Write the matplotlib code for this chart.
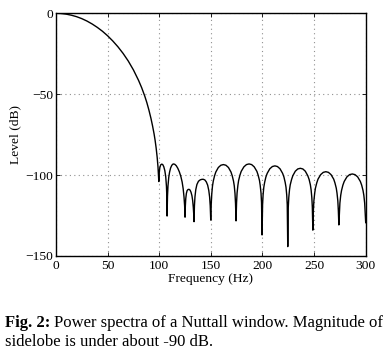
import matplotlib
matplotlib.use("Agg")
import matplotlib.pyplot as plt

plt.rcParams['font.family'] = ['Liberation Serif', 'DejaVu Serif']
plt.rcParams['axes.unicode_minus'] = True

# Main lobe (frequency Hz, level dB)
main_f = [0, 5, 10, 15, 20, 25, 30, 35, 40, 45, 50, 55, 60, 65, 70, 75, 80, 83, 86, 88,
          90, 92, 93.5, 95, 96, 97, 98, 98.8, 99.3, 99.6]
main_db = [0, -0.13, -0.53, -1.2, -2.1, -3.3, -4.8, -6.6, -8.7, -11.1, -13.9, -17.1, -20.7,
           -24.8, -29.5, -35.0, -41.5, -46.0, -51.2, -55.2, -59.8, -65.0, -69.5, -74.5,
           -78.5, -83.2, -89, -95, -100, -104]

# Sidelobes 100-150 Hz
side1_f = [100.0, 100.6, 101.4, 102.4, 103.4, 104.4, 105.4, 106.3, 107.0, 107.4, 107.6,
           108.0, 108.5, 109.2, 110.0, 111.0, 112.2, 113.5, 115.0, 116.5, 118.0, 119.5,
           121.0, 122.2, 123.2, 124.0, 124.6, 125.0,
           125.3, 125.7, 126.3, 127.0, 127.9, 128.9, 129.9, 130.8, 131.7, 132.4, 133.0,
           133.4, 133.7,
           134.1, 134.6, 135.4, 136.5, 138.0, 139.8, 141.5, 142.7, 144.2, 145.6, 146.9,
           148.0, 148.8, 149.4, 149.9]
side1_db = [-98.5, -95.3, -93.7, -93.2, -93.5, -94.8, -97.2, -101, -107, -114, -125.3,
            -113, -106.5, -101.5, -98.2, -95.6, -93.9, -93.1, -93.3, -94.2, -95.8, -98.0,
            -101.0, -104.3, -108.5, -113.5, -119, -126,
            -119, -114.5, -111.3, -109.6, -108.9, -108.8, -109.3, -110.6, -112.8, -115.8,
            -120, -124, -128.8,
            -119, -113.5, -109, -105.8, -103.8, -102.9, -102.6, -102.6, -103.0, -104.2,
            -106.2, -109.5, -113.5, -119, -127.8]

# Sidelobes 150-300 Hz
side2_f = [150.4, 150.9, 151.6, 152.35, 153.6, 154.8, 157.25, 159.7, 162.15, 164.6, 167.05,
           169.5, 170.7, 171.95, 172.7, 173.4, 173.9, 174.4,
           174.9, 175.4, 176.2, 176.9, 178.2, 179.4, 182.0, 184.5, 187.0, 189.5, 192.0,
           194.6, 195.8, 197.1, 197.8, 198.6, 199.1, 199.6,
           200.1, 200.6, 201.3, 202.1, 203.3, 204.6, 207.1, 209.6, 212.05, 214.5, 217.0,
           219.5, 220.8, 222.0, 222.8, 223.5, 224.0, 224.5,
           225.0, 225.5, 226.2, 226.9, 228.2, 229.4, 231.8, 234.2, 236.65, 239.1, 241.5,
           243.9, 245.2, 246.4, 247.1, 247.8, 248.3, 248.8,
           249.3, 249.8, 250.6, 251.3, 252.6, 253.8, 256.4, 258.9, 261.4, 263.9, 266.4,
           269.0, 270.2, 271.5, 272.2, 273.0, 273.5, 274.0,
           274.5, 275.0, 275.8, 276.6, 277.9, 279.2, 281.8, 284.4, 287.0, 289.6, 292.2,
           294.8, 296.1, 297.4, 298.2, 299.0, 299.5, 300.0]
side2_db = [-117.5, -111.5, -106.7, -103.7, -100.4, -98.1, -95.3, -93.9, -93.5, -93.9, -95.3,
            -98.1, -100.4, -103.7, -106.7, -111.5, -117.5, -128.3,
            -117.1, -111.1, -106.3, -103.3, -100.0, -97.7, -94.9, -93.5, -93.1, -93.5, -94.9,
            -97.7, -100.0, -103.3, -106.3, -111.1, -117.1, -137.0,
            -118.3, -112.3, -107.5, -104.5, -101.2, -98.9, -96.1, -94.7, -94.3, -94.7, -96.1,
            -98.9, -101.2, -104.5, -107.5, -112.3, -118.3, -144.2,
            -119.8, -113.8, -109.0, -106.0, -102.7, -100.4, -97.6, -96.2, -95.8, -96.2, -97.6,
            -100.4, -102.7, -106.0, -109.0, -113.8, -119.8, -134.0,
            -121.9, -115.9, -111.1, -108.1, -104.8, -102.5, -99.7, -98.3, -97.9, -98.3, -99.7,
            -102.5, -104.8, -108.1, -111.1, -115.9, -121.9, -130.8,
            -123.3, -117.3, -112.5, -109.5, -106.2, -103.9, -101.1, -99.7, -99.3, -99.7, -101.1,
            -103.9, -106.2, -109.5, -112.5, -117.3, -123.3, -129.4]

freq = main_f + side1_f + side2_f
level = main_db + side1_db + side2_db

x_ticks = [0, 50, 100, 150, 200, 250, 300]
y_ticks = [-150, -100, -50, 0]

W, H = 390, 351
fig = plt.figure(figsize=(W / 100, H / 100), dpi=100)
ax = fig.add_axes([56 / W, 1 - 256 / H, (365.7 - 56) / W, (256 - 13.3) / H])

ax.plot(freq, level, color='black', lw=1.0)
ax.set_xlim(0, 300)
ax.set_ylim(-150, 0)
ax.set_xticks(x_ticks)
ax.set_yticks(y_ticks)
ax.grid(True, color='#909090', linestyle=(0, (1, 3)), lw=0.8)
ax.tick_params(direction='in', length=3, width=0.6, labelsize=9.7, top=True, right=True)
ax.tick_params(axis='x', pad=3)
ax.tick_params(axis='y', pad=2)
for s in ax.spines.values():
    s.set_linewidth(1.0)
ax.set_xlabel('Frequency (Hz)', fontsize=9.7, labelpad=0.5)
ax.set_ylabel('Level (dB)', fontsize=9.7, labelpad=3)

renderer = fig.canvas.get_renderer()
t1 = fig.text(5 / W, 1 - 327 / H, 'Fig. 2:', fontsize=12, fontweight='bold')
bb = t1.get_window_extent(renderer)
fig.text((bb.x1 + 4) / W, 1 - 327 / H, 'Power spectra of a Nuttall window. Magnitude of',
         fontsize=12)
fig.text(5 / W, 1 - 346 / H, 'sidelobe is under about -90 dB.', fontsize=12)

fig.savefig('out.png', dpi=100)
